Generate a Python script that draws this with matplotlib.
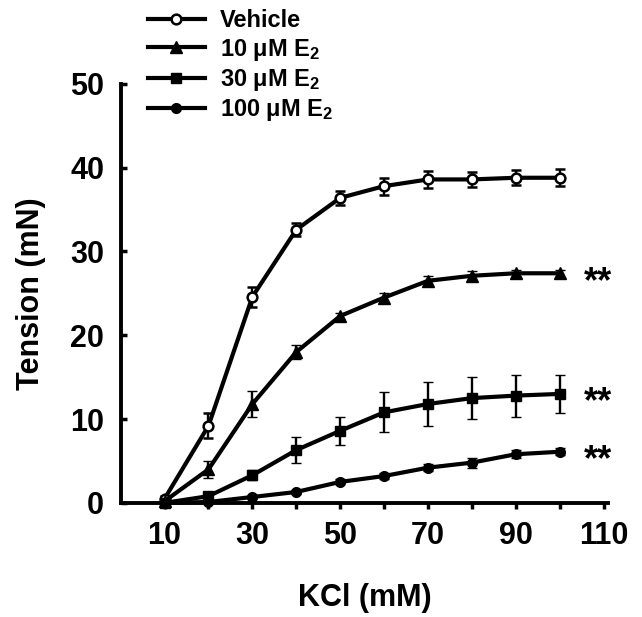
import matplotlib
matplotlib.use("Agg")
import matplotlib.pyplot as plt
import numpy as np

plt.rcParams['font.family'] = ['Liberation Sans', 'DejaVu Sans']
plt.rcParams['font.weight'] = 'bold'
plt.rcParams['mathtext.default'] = 'regular'

# KCl concentrations (mM)
kcl = [10, 20, 30, 40, 50, 60, 70, 80, 90, 100]

vehicle = [0.5, 9.2, 24.6, 32.6, 36.4, 37.8, 38.6, 38.6, 38.8, 38.8]
vehicle_err = [0.3, 1.5, 1.2, 0.8, 0.8, 1.0, 1.0, 0.9, 0.9, 1.0]

e2_10 = [0.2, 4.0, 11.8, 18.0, 22.3, 24.5, 26.5, 27.1, 27.4, 27.4]
e2_10_err = [0.2, 1.0, 1.5, 0.8, 0.4, 0.6, 0.6, 0.6, 0.4, 0.4]

e2_30 = [0.0, 0.8, 3.3, 6.3, 8.6, 10.8, 11.8, 12.5, 12.8, 13.0]
e2_30_err = [0.2, 0.4, 0.6, 1.5, 1.7, 2.4, 2.6, 2.5, 2.5, 2.3]

e2_100 = [0.0, 0.1, 0.7, 1.3, 2.5, 3.2, 4.2, 4.8, 5.8, 6.1]
e2_100_err = [0.1, 0.1, 0.2, 0.2, 0.3, 0.4, 0.4, 0.6, 0.5, 0.4]

labels = ['Vehicle', '10 \u03bcM E$_2$', '30 \u03bcM E$_2$', '100 \u03bcM E$_2$']
star_series = [e2_10, e2_30, e2_100]

xticks = [10, 20, 30, 40, 50, 60, 70, 80, 90, 100, 110]
xticklabels = ['10', '', '30', '', '50', '', '70', '', '90', '', '110']
yticks = [0, 10, 20, 30, 40, 50]

fig = plt.figure(figsize=(6.42, 6.17), dpi=100)
ax = fig.add_axes([0.188, 0.185, 0.759, 0.679])

styles = [
    dict(marker='o', mfc='white', ms=7, mew=1.8),
    dict(marker='^', mfc='black', ms=8, mew=1.0),
    dict(marker='s', mfc='black', ms=7.5, mew=1.0),
    dict(marker='o', mfc='black', ms=7, mew=1.0),
]
series = [(vehicle, vehicle_err), (e2_10, e2_10_err), (e2_30, e2_30_err), (e2_100, e2_100_err)]

handles = []
for (vals, errs), st, lab in zip(series, styles, labels):
    h = ax.errorbar(kcl, vals, yerr=errs, color='black', mec='black', lw=3,
                    elinewidth=1.7, capsize=3.5, capthick=1.7, label=lab,
                    clip_on=False, **st)
    handles.append(h)

# significance marks next to the last point
for vals in star_series:
    ax.annotate('**', xy=(105.5, vals[-1]), xytext=(0, -6.5), textcoords='offset points',
                fontsize=26, fontweight='bold', va='center', ha='left')

ax.set_xlim(0, 111)
ax.set_ylim(0, 50)
ax.set_xticks(xticks)
ax.set_xticklabels(xticklabels)
ax.set_yticks(yticks)
ax.tick_params(axis='x', direction='out', length=4, width=2.5, labelsize=22, pad=9)
ax.tick_params(axis='y', direction='in', length=4, width=2.5, labelsize=22, pad=12)
for lab in ax.get_xticklabels() + ax.get_yticklabels():
    lab.set_fontweight('bold')

for s in ['top', 'right']:
    ax.spines[s].set_visible(False)
for s in ['left', 'bottom']:
    ax.spines[s].set_linewidth(2.8)

ax.set_xlabel('KCl (mM)', fontsize=22, fontweight='bold', labelpad=23)
ax.set_ylabel('Tension (mN)', fontsize=22, fontweight='bold', labelpad=17)

leg = fig.legend(handles=[h[0] for h in handles], labels=labels,
                 loc='upper left', bbox_to_anchor=(0.216, 1.0), frameon=False,
                 fontsize=17, handlelength=2.4, labelspacing=0.18,
                 handletextpad=0.65, borderaxespad=0)
for t in leg.get_texts():
    t.set_fontweight('bold')

fig.savefig('out.png', dpi=100)
